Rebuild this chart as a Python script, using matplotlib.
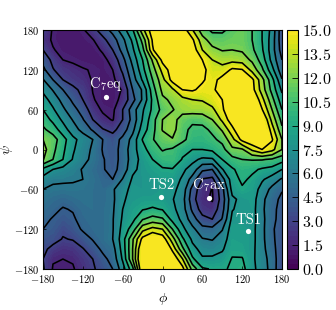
import numpy as np
from matplotlib import pyplot as plt

plt.rcParams['mathtext.fontset'] = 'cm'
plt.rcParams['font.family'] = 'serif'
plt.rcParams['font.serif'] = ['cmr10', 'DejaVu Serif']
plt.rcParams['axes.formatter.use_mathtext'] = True
plt.rcParams['axes.unicode_minus'] = False

phi = [-180, -165, -150, -135, -120, -105, -90, -75, -60, -45, -30, -15, 0,
       15, 30, 45, 60, 75, 90, 105, 120, 135, 150, 165, 180]
psi = [180, 165, 150, 135, 120, 105, 90, 75, 60, 45, 30, 15, 0,
       -15, -30, -45, -60, -75, -90, -105, -120, -135, -150, -165, -180]

# free energy, one row per psi value (top to bottom)
energy = [
    [2.9, 1.3, 1.0, 1.0, 1.3, 2.5, 3.7, 5.0, 6.8, 8.8, 13, 16, 17, 17, 16, 13.6, 11.2, 10.2, 10.2, 11, 11.6, 10.5, 9, 7, 3.5],
    [2.2, 1.3, .9, .9, 1.1, 1.4, 2.6, 3.8, 5.6, 7.8, 11, 15.2, 17, 17.5, 17, 15.3, 12.6, 11.3, 11.2, 11.5, 11.5, 10.5, 9, 6.8, 3.5],
    [3.0, 1.6, 1.1, .9, .9, 1.0, 1.7, 3.0, 5.0, 7.2, 10, 14.8, 17, 18, 17.8, 16, 13.5, 12.4, 11.9, 12, 11.8, 10.8, 9.2, 6.7, 3.8],
    [4.0, 2.6, 1.5, 1.3, 1.1, 1.0, 1.1, 2.0, 4.0, 6.5, 9, 12.2, 15.5, 17.5, 17.5, 17, 15, 13.5, 13, 13, 12.8, 11.7, 9.8, 7, 4.5],
    [4.9, 3.1, 2.3, 1.9, 1.6, 1.4, 1.1, 1.5, 3.3, 5.8, 8.5, 11.3, 14, 15.9, 17, 17, 15.6, 14, 14, 15.3, 15.1, 13, 10.8, 8, 5.0],
    [6.1, 4.5, 3.0, 2.4, 2.0, 1.4, 1.0, 1.2, 2.5, 5.2, 7.7, 10.5, 13, 15.6, 16.5, 16, 15.2, 14.4, 15.6, 17.5, 17.5, 15.4, 12.5, 9.5, 6.1],
    [7.2, 5.9, 4.5, 3.4, 2.6, 1.45, 1.1, 1.0, 1.6, 4.5, 6.2, 9.8, 12.4, 13.2, 15, 15.2, 14.6, 14.6, 16, 18, 18, 15.6, 12.8, 10, 7.2],
    [8.1, 6.9, 5.5, 4.2, 3.0, 1.6, 1.1, 1.0, 1.9, 4.0, 6.2, 9.3, 11.7, 12.3, 13, 13.5, 13.6, 14.2, 15, 18, 18, 17, 14, 11, 8.1],
    [9.0, 7.7, 6.3, 5.0, 3.9, 2.2, 1.3, 1.2, 3.0, 5.3, 7.3, 9.3, 11, 11.9, 12.6, 12.8, 12.8, 13.2, 14.6, 17.5, 18, 18, 15.1, 12, 9.0],
    [9.9, 8.6, 7.2, 5.9, 4.6, 3.0, 1.9, 1.4, 3.0, 5.0, 7.6, 9.9, 12, 12.6, 11.3, 10.8, 11, 12, 13.8, 16, 18, 18, 17, 13, 10],
    [10.8, 9.8, 8.2, 6.7, 5.5, 4.3, 3.1, 2.6, 3.7, 5.6, 8.2, 10, 12.1, 12.6, 10.9, 10.2, 10.1, 10.8, 12.2, 14.5, 17, 18, 18, 14.2, 10.8],
    [12, 11.2, 9.6, 7.9, 6.9, 6.0, 4.5, 3.7, 4.9, 6.5, 9.1, 10.4, 11.3, 11.9, 10.9, 9.8, 9.7, 10.2, 10.9, 13, 15.5, 16.5, 18, 15.2, 12],
    [12.6, 10.9, 9.3, 7.7, 6.6, 5.8, 4.4, 3.9, 5.0, 6.9, 8.4, 9.9, 10.6, 10.3, 9.4, 9.0, 9.0, 9.3, 10, 11.7, 11.8, 13.8, 15, 14, 12],
    [12.1, 10.5, 9.0, 7.4, 6.4, 5.7, 4.6, 4.0, 4.9, 6.8, 8, 9, 9.9, 10.1, 8.9, 7.9, 7.2, 7.3, 9, 10, 10.5, 10.6, 10.6, 10.3, 9.6],
    [8.6, 7.5, 7.0, 6.5, 5.9, 5.3, 4.6, 4.1, 5.0, 7.2, 7.9, 8.4, 8.8, 8.9, 7.8, 6.9, 4.8, 4.5, 7.4, 8.8, 9.6, 9.3, 8.8, 8.5, 7.5],
    [6.9, 6.2, 6.2, 6.1, 6.0, 5.5, 4.9, 4.5, 6.1, 7.7, 7.8, 8, 8.3, 8.2, 7.3, 5.4, 2.9, 2.6, 5.4, 8.3, 9.3, 8.7, 7.7, 6.8, 5.8],
    [6.0, 5.8, 5.7, 5.8, 5.7, 5.4, 5.1, 5.8, 7.0, 7.9, 7.8, 7.9, 8.1, 7.9, 6.9, 4.0, 2.0, 1.45, 4.0, 8, 8.8, 8.4, 6.9, 5.6, 4.6],
    [5.6, 5.2, 4.9, 5.2, 5.5, 5.4, 5.2, 5.7, 7.3, 8, 8.2, 8.2, 8.2, 7.6, 6.6, 3.6, 1.8, 1.35, 3.7, 7.2, 7.9, 8.2, 6.4, 5, 4.2],
    [5.2, 4.8, 4.4, 4.6, 5.2, 5.4, 5.3, 5.8, 7.5, 8.3, 8.9, 9.2, 8.9, 7.9, 6.7, 4.2, 2.3, 2.0, 4.0, 7.4, 8, 8.1, 6.3, 4.9, 4],
    [4.8, 4.4, 3.9, 4.3, 5.0, 5.3, 5.3, 5.9, 7.7, 8.6, 10.4, 11.1, 10.7, 8.5, 7.1, 5.2, 3.5, 3.0, 4.6, 7.9, 8, 8.1, 6.4, 4.9, 3.9],
    [4.5, 4.1, 3.3, 3.8, 4.7, 5.1, 5.3, 5.9, 8.0, 9.7, 13, 14, 13.5, 10.5, 7.9, 6.4, 5.0, 4.9, 5.9, 8.3, 8.2, 8, 6.4, 4.7, 3.8],
    [3.9, 3.6, 2.9, 3.1, 3.8, 4.6, 5.3, 6.0, 8.3, 11.8, 15.5, 17, 16, 12.7, 9.3, 7.2, 6.1, 5.9, 6.7, 8.4, 8.3, 8, 6.4, 4.8, 3.7],
    [3.4, 2.5, 2.0, 2.2, 2.9, 3.8, 4.8, 5.4, 8.1, 12, 17, 18, 18, 14.6, 10.9, 8.0, 7.0, 6.8, 7.3, 8.6, 8.5, 7.9, 6.5, 5, 3.6],
    [3.0, 1.6, 1.5, 1.6, 2.3, 3.0, 4.1, 5.0, 7.7, 12, 17.5, 18, 18, 16.5, 13.6, 9.3, 7.7, 7.8, 8.1, 9.1, 9.1, 7.8, 6.7, 5.3, 3.4],
    [3.2, 1.4, 1.2, 1.4, 2.0, 2.8, 3.6, 4.5, 6.8, 10, 17, 18, 18, 17, 15.6, 11.5, 9.2, 8.9, 8.9, 9.1, 9.5, 7.9, 6.8, 5.4, 3.2],
]

# labelled conformers: name, phi, psi
state_names = [r'$\mathrm{C_7eq}$', 'TS2', r'$\mathrm{C_7ax}$', 'TS1']
state_phi = [-85, -2, 70.5, 129]
state_psi = [79, -71, -73.5, -123]

angle_ticks = [-180, -120, -60, 0, 60, 120, 180]
cbar_ticks = np.arange(0, 15.1, 1.5)

Z = np.array(energy)

fig = plt.figure(figsize=(3.36, 3.10), dpi=100)
ax = fig.add_axes([43 / 336, 1 - 269 / 310, 239 / 336, 239 / 310])
cax = fig.add_axes([286.5 / 336, 1 - 269 / 310, 11.5 / 336, 239 / 310])

fill = ax.contourf(phi, psi, np.minimum(Z, 15), levels=np.linspace(0, 15, 51), cmap='viridis')
ax.contour(phi, psi, Z, levels=np.arange(1.5, 15.1, 1.5), colors='k', linewidths=1.15)

ax.scatter(state_phi, state_psi, s=14, c='w', linewidths=0, zorder=5)
for name, x, y in zip(state_names, state_phi, state_psi):
    ax.annotate(name, (x, y), xytext=(0, 3), textcoords='offset points', ha='center', va='bottom',
                color='w', fontsize=10.5, zorder=6)

ax.set_xlim(-180, 180)
ax.set_ylim(-180, 180)
ax.set_xticks(angle_ticks)
ax.set_yticks(angle_ticks)
ax.set_xticklabels(['$%d$' % t for t in angle_ticks], fontsize=7.5)
ax.set_yticklabels(['$%d$' % t for t in angle_ticks], fontsize=7.5)
ax.tick_params(direction='in', length=2, width=0.5, pad=3)
ax.set_xlabel(r'$\phi$', fontsize=10, labelpad=4)
ax.set_ylabel(r'$\psi$', fontsize=10)
ax.yaxis.set_label_coords(-0.117, 0.5)

cbar = fig.colorbar(fill, cax=cax, ticks=cbar_ticks)
cbar.ax.set_yticklabels(['$%.1f$' % t for t in cbar_ticks], fontsize=11.5)
cbar.ax.tick_params(direction='in', length=4, width=0.6, pad=3)

fig.savefig('out.png', dpi=100)
